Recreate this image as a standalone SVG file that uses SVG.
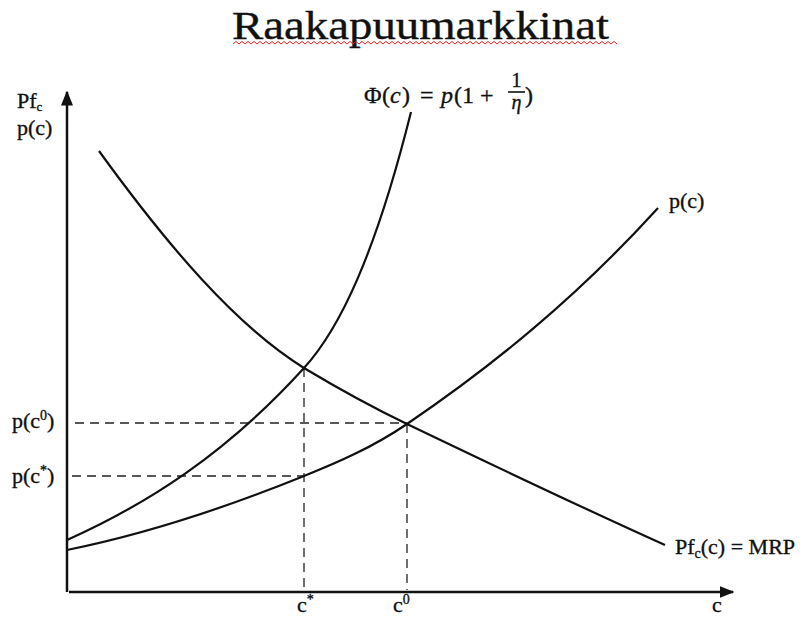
<svg xmlns="http://www.w3.org/2000/svg" width="806" height="618" viewBox="0 0 806 618">
<defs>
<style>
.t{font-family:"Liberation Serif","Times New Roman",serif;fill:#111;stroke:#111;stroke-width:0.35}
.lab{font-size:22px}
.ax{stroke:#111;stroke-width:2.5;fill:none}
.cv{stroke:#111;stroke-width:2.2;fill:none}
.dash{stroke:#222;stroke-width:1.3;stroke-dasharray:9,6;fill:none}
</style>
<marker id="arr" viewBox="0 0 10 10" refX="9" refY="5" markerWidth="6" markerHeight="6" orient="auto" markerUnits="strokeWidth">
<path d="M0,1 L10,5 L0,9 Z" fill="#111"/>
</marker>
</defs>
<rect width="806" height="618" fill="#fff"/>
<g id="title">
<text class="t" x="232" y="39" font-size="40" textLength="377" lengthAdjust="spacingAndGlyphs">Raakapuumarkkinat</text>
<path d="M233,44 l3,-2.5 l3,2.5 l3,-2.5 l3,2.5 l3,-2.5 l3,2.5 l3,-2.5 l3,2.5 l3,-2.5 l3,2.5 l3,-2.5 l3,2.5 l3,-2.5 l3,2.5 l3,-2.5 l3,2.5 l3,-2.5 l3,2.5 l3,-2.5 l3,2.5 l3,-2.5 l3,2.5 l3,-2.5 l3,2.5 l3,-2.5 l3,2.5 l3,-2.5 l3,2.5 l3,-2.5 l3,2.5 l3,-2.5 l3,2.5 l3,-2.5 l3,2.5 l3,-2.5 l3,2.5 l3,-2.5 l3,2.5 l3,-2.5 l3,2.5 l3,-2.5 l3,2.5 l3,-2.5 l3,2.5 l3,-2.5 l3,2.5 l3,-2.5 l3,2.5 l3,-2.5 l3,2.5 l3,-2.5 l3,2.5 l3,-2.5 l3,2.5 l3,-2.5 l3,2.5 l3,-2.5 l3,2.5 l3,-2.5 l3,2.5 l3,-2.5 l3,2.5 l3,-2.5 l3,2.5 l3,-2.5 l3,2.5 l3,-2.5 l3,2.5 l3,-2.5 l3,2.5 l3,-2.5 l3,2.5 l3,-2.5 l3,2.5 l3,-2.5 l3,2.5 l3,-2.5 l3,2.5 l3,-2.5 l3,2.5 l3,-2.5 l3,2.5 l3,-2.5 l3,2.5 l3,-2.5 l3,2.5 l3,-2.5 l3,2.5 l3,-2.5 l3,2.5 l3,-2.5 l3,2.5 l3,-2.5 l3,2.5 l3,-2.5 l3,2.5 l3,-2.5 l3,2.5 l3,-2.5 l3,2.5 l3,-2.5 l3,2.5 l3,-2.5 l3,2.5 l3,-2.5 l3,2.5 l3,-2.5 l3,2.5 l3,-2.5 l3,2.5 l3,-2.5 l3,2.5 l3,-2.5 l3,2.5 l3,-2.5 l3,2.5 l3,-2.5 l3,2.5 l3,-2.5 l3,2.5 l3,-2.5 l3,2.5 l3,-2.5 l3,2.5 l3,-2.5 l3,2.5 l3,-2.5 l3,2.5" stroke="#e02020" stroke-width="1" fill="none"/>
</g>
<g id="axes">
<line class="ax" x1="67" y1="592" x2="67" y2="92" marker-end="url(#arr)"/>
<line class="ax" x1="69" y1="592" x2="733" y2="592" marker-end="url(#arr)"/>
</g>
<g id="connectors">
<line class="dash" x1="75" y1="423" x2="407" y2="423"/>
<line class="dash" x1="72" y1="476" x2="304" y2="476"/>
<line class="dash" x1="304" y1="368" x2="304" y2="590"/>
<line class="dash" x1="407" y1="424" x2="407" y2="590"/>
</g>
<g id="curve-phi">
<path class="cv" d="M67,540 C146,504.5 225,455 304,368 C339.7,328.7 375.3,254.8 411,112"/>
</g>
<g id="curve-pc">
<path class="cv" d="M67,550 C146,534 225,508 304,476 C338.3,462.3 372.7,447.3 407,424 C490.7,367.1 574.3,300 658,208"/>
</g>
<g id="curve-mrp">
<path class="cv" d="M99,151 C167.3,245.3 235.7,325.7 304,368 C338.3,388.6 372.7,407.5 407,424 C493,465.3 579,506.3 665,545"/>
</g>
<g id="labels">
<text class="t lab" x="17" y="108">Pf<tspan font-size="13" dy="3">c</tspan></text>
<text class="t lab" x="17" y="135">p(c)</text>
<text class="t lab" x="669" y="208">p(c)</text>
<text class="t lab" x="12" y="428">p(c<tspan font-size="14" dy="-8">0</tspan><tspan dy="8">)</tspan></text>
<text class="t lab" x="12" y="483">p(c<tspan font-size="14" dy="-8">*</tspan><tspan dy="8">)</tspan></text>
<text class="t lab" x="675" y="554">Pf<tspan font-size="14" dy="4">c</tspan><tspan dy="-4">(c) = MRP</tspan></text>
<text class="t lab" x="297" y="612">c<tspan font-size="14" dy="-8">*</tspan></text>
<text class="t lab" x="393" y="612">c<tspan font-size="14" dy="-8">0</tspan></text>
<text class="t lab" x="712" y="612">c</text>
</g>
<g id="formula" class="t" font-size="24">
<text x="364" y="103">Φ</text>
<text x="382" y="103">(</text>
<text x="390" y="103" font-style="italic">c</text>
<text x="402" y="103">)</text>
<text x="420" y="103">=</text>
<text x="441" y="103" font-style="italic">p</text>
<text x="454" y="103">(1</text>
<text x="480" y="103">+</text>
<text x="516.5" y="87" font-size="20" text-anchor="middle">1</text>
<line x1="508" y1="92" x2="525" y2="92" stroke="#111" stroke-width="1.6"/>
<text x="516.5" y="109" font-size="20" font-style="italic" text-anchor="middle">η</text>
<text x="525" y="103">)</text>
</g>
</svg>
